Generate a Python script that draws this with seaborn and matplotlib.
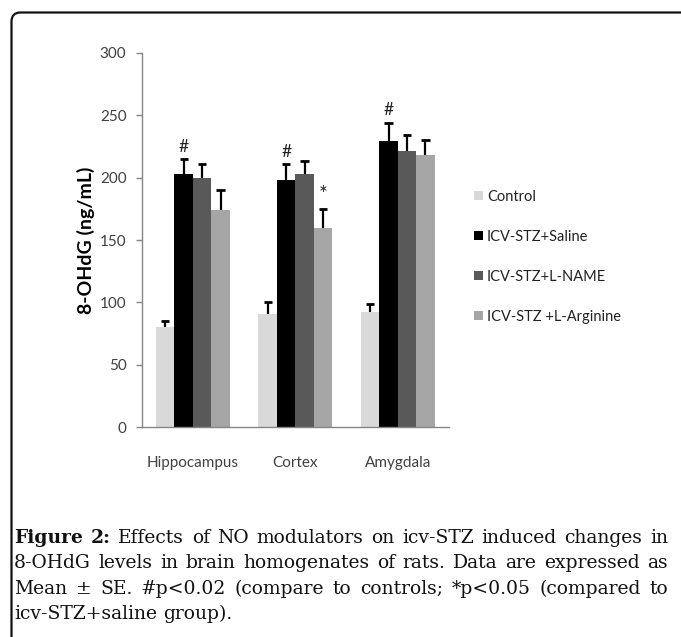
import numpy as np
import pandas as pd
import matplotlib
matplotlib.use("Agg")
import matplotlib.pyplot as plt
import matplotlib.transforms as mtransforms
from matplotlib.patches import FancyBboxPatch
import seaborn as sns

# ---------------- data ----------------
regions = ["Hippocampus", "Cortex", "Amygdala"]
groups = ["Control", "ICV-STZ+Saline", "ICV-STZ+L-NAME", "ICV-STZ +L-Arginine"]
control = [80, 91, 92]
control_se = [5, 9, 7]
saline = [203, 198, 229]
saline_se = [12, 13, 15]
lname = [200, 203, 221]
lname_se = [11, 10, 13]
larginine = [174, 160, 218]
larginine_se = [16, 15, 12]
colors = ["#d9d9d9", "#000000", "#595959", "#a6a6a6"]
yticks = [0, 50, 100, 150, 200, 250, 300]
# significance marks: (symbol, group index, region index, font size)
marks = [("#", 1, 0, 12.5), ("#", 1, 1, 12.5), ("#", 1, 2, 12.5), ("*", 3, 1, 15)]
ylabel = "8-OHdG (ng/mL)"
caption_lines = [
    [("Figure", "bold"), ("2:", "bold"), ("Effects", "normal"), ("of", "normal"), ("NO", "normal"),
     ("modulators", "normal"), ("on", "normal"), ("icv-STZ", "normal"), ("induced", "normal"),
     ("changes", "normal"), ("in", "normal")],
    [(w, "normal") for w in "8-OHdG levels in brain homogenates of rats. Data are expressed as".split()],
    [(w, "normal") for w in "Mean ± SE. #p<0.02 (compare to controls; *p<0.05 (compared to".split()],
    [(w, "normal") for w in "icv-STZ+saline group).".split()],
]

means = [control, saline, lname, larginine]
ses = [control_se, saline_se, lname_se, larginine_se]
rows = []
for g, m, s in zip(groups, means, ses):
    for r, v, e in zip(regions, m, s):
        rows.append({"region": r, "group": g, "value": v, "se": e})
df = pd.DataFrame(rows)

# ---------------- style ----------------
sns.set_style("white")
plt.rcParams["font.family"] = ["Lato", "DejaVu Sans"]

W, H = 681, 637
fig = plt.figure(figsize=(W / 100, H / 100), dpi=100)
ax_l, ax_r, ax_t, ax_b = 141.7, 449.0, 52.7, 427.3
ax = fig.add_axes([ax_l / W, 1 - ax_b / H, (ax_r - ax_l) / W, (ax_b - ax_t) / H])

sns.barplot(data=df, x="region", y="value", hue="group", order=regions, hue_order=groups,
            palette=colors, saturation=1, width=0.72, errorbar=None, linewidth=0, ax=ax)

# error bars (upper only) and significance marks
for gi, cont in enumerate(ax.containers):
    for ri, bar in enumerate(cont):
        x = bar.get_x() + bar.get_width() / 2
        m = means[gi][ri]
        top = m + ses[gi][ri]
        ax.vlines(x, m, top, color="black", lw=1.6, zorder=3)
        ax.hlines(top, x - 0.04, x + 0.04, color="black", lw=2.0, zorder=3)
for sym, gi, ri, fs in marks:
    bar = ax.containers[gi][ri]
    x = bar.get_x() + bar.get_width() / 2
    top = means[gi][ri] + ses[gi][ri]
    ax.annotate(sym, (x, top), xytext=(0, 3), textcoords="offset points",
                ha="center", va="bottom", fontsize=fs, color="#222222")

# axes
ax.set_ylim(0, 300)
ax.set_xlim(-0.5, 2.5)
ax.set_yticks(yticks)
ax.set_yticklabels([str(t) for t in yticks])
ax.set_xticks(range(len(regions)))
ax.set_xticklabels(regions)
ax.set_xticks([-0.5, 0.5, 1.5, 2.5], minor=True)
ax.tick_params(axis="x", which="major", length=0, pad=21, labelsize=11, labelcolor="#404040")
ax.tick_params(axis="x", which="minor", length=6, width=1, color="#868686", direction="out")
ax.tick_params(axis="y", which="major", length=4, width=1, color="#868686", direction="out",
               pad=7, labelsize=11, labelcolor="#404040", left=True)
for side in ["top", "right"]:
    ax.spines[side].set_visible(False)
for side in ["left", "bottom"]:
    ax.spines[side].set_color("#868686")
    ax.spines[side].set_linewidth(1)
ax.set_xlabel("")
ax.set_ylabel(ylabel, fontweight="bold", fontsize=14, color="#000000", va="center")
ax.yaxis.set_label_coords((86 - ax_l) / (ax_r - ax_l), 0.5)

# legend
handles, labels = ax.get_legend_handles_labels()
if ax.legend_ is not None:
    ax.legend_.remove()
fig.legend(handles, labels, loc="upper left", bbox_to_anchor=(474 / W, 1 - 190 / H),
           frameon=False, handlelength=0.6, handleheight=0.6, handletextpad=0.3,
           labelspacing=1.78, borderpad=0, borderaxespad=0,
           prop={"family": "Lato", "size": 10.5}, labelcolor="#222222")

# rounded frame (only top and left edges visible)
frame = FancyBboxPatch((11.5, -80), 900, (H - 12.5) + 80,
                       boxstyle="round,pad=0,rounding_size=9",
                       transform=mtransforms.IdentityTransform(),
                       facecolor="none", edgecolor="#111111", lw=1.6)
fig.add_artist(frame)

# caption, justified
renderer = fig.canvas.get_renderer()
cap_fs = 13.5
cap_family = "DejaVu Serif"
x_left, x_right = 14, 668
baselines = [543, 568.5, 594, 619]

def text_width(s, wt):
    t = fig.text(0, 0, s, fontsize=cap_fs, family=cap_family, weight=wt)
    w = t.get_window_extent(renderer).width
    t.remove()
    return w

space_w = text_width("a a", "normal") - text_width("aa", "normal")
for li, (line, yb) in enumerate(zip(caption_lines, baselines)):
    texts, widths = [], []
    for w, wt in line:
        t = fig.text(0, 1 - yb / H, w, fontsize=cap_fs, family=cap_family, weight=wt,
                     va="baseline", ha="left", color="#111111")
        texts.append(t)
        widths.append(t.get_window_extent(renderer).width)
    if li < len(caption_lines) - 1 and len(line) > 1:
        gap = (x_right - x_left - sum(widths)) / (len(line) - 1)
    else:
        gap = space_w
    x = x_left
    for t, w in zip(texts, widths):
        t.set_x(x / W)
        x += w + gap

fig.savefig("out.png", dpi=100)
